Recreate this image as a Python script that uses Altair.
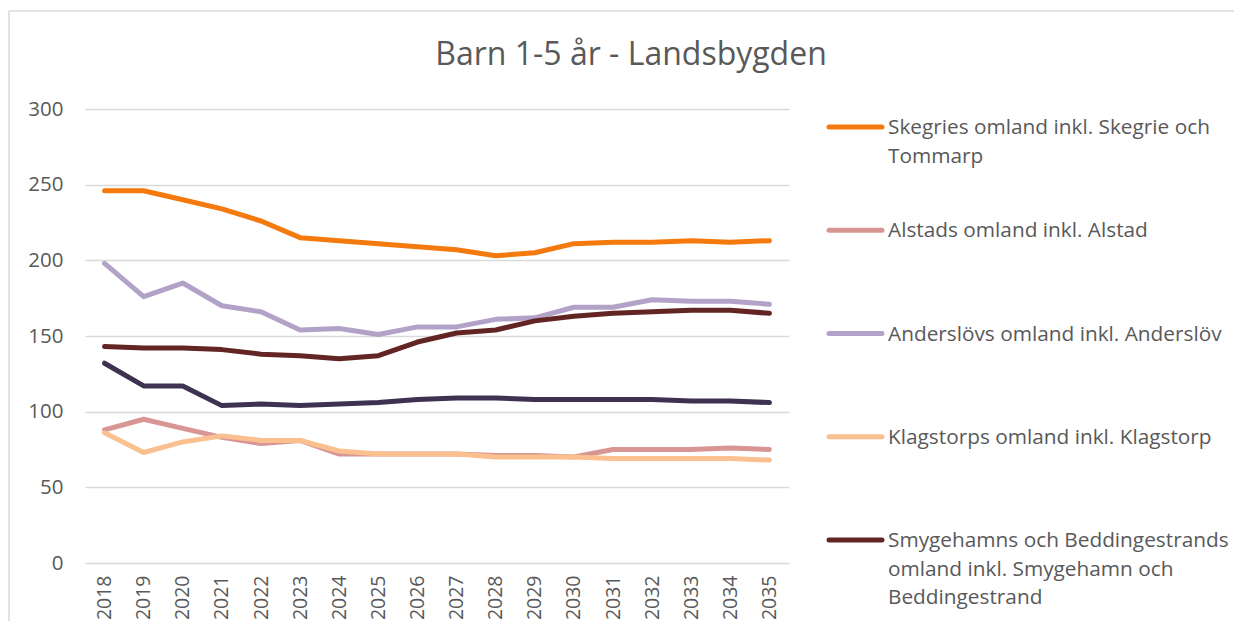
import altair as alt
import pandas as pd

years = list(range(2018, 2036))

series_names = [
    "Skegries omland inkl. Skegrie och Tommarp",
    "Alstads omland inkl. Alstad",
    "Anderslövs omland inkl. Anderslöv",
    "Klagstorps omland inkl. Klagstorp",
    "Smygehamns och Beddingestrands omland inkl. Smygehamn och Beddingestrand",
    "Övrig landsbygd",
]

legend_labels = [
    "Skegries omland inkl. Skegrie och\nTommarp",
    "Alstads omland inkl. Alstad",
    "Anderslövs omland inkl. Anderslöv",
    "Klagstorps omland inkl. Klagstorp",
    "Smygehamns och Beddingestrands\nomland inkl. Smygehamn och\nBeddingestrand",
]

skegrie = [246, 246, 240, 234, 226, 215, 213, 211, 209, 207, 203, 205, 211, 212, 212, 213, 212, 213]
alstad = [88, 95, 89, 83, 79, 81, 72, 72, 72, 72, 71, 71, 70, 75, 75, 75, 76, 75]
anderslov = [198, 176, 185, 170, 166, 154, 155, 151, 156, 156, 161, 162, 169, 169, 174, 173, 173, 171]
klagstorp = [86, 73, 80, 84, 81, 81, 74, 72, 72, 72, 70, 70, 70, 69, 69, 69, 69, 68]
smygehamn = [143, 142, 142, 141, 138, 137, 135, 137, 146, 152, 154, 160, 163, 165, 166, 167, 167, 165]
ovrig = [132, 117, 117, 104, 105, 104, 105, 106, 108, 109, 109, 108, 108, 108, 108, 107, 107, 106]

colors = ["#F47A0E", "#D99594", "#B3A2C7", "#FAC090", "#632523", "#3F3151"]

rows = []
for name, vals in zip(series_names, [skegrie, alstad, anderslov, klagstorp, smygehamn, ovrig]):
    for y, v in zip(years, vals):
        rows.append({"serie": name, "år": str(y), "antal": v})
df = pd.DataFrame(rows)

leg_df = pd.DataFrame({
    "serie": series_names[:5],
    "label": legend_labels,
    "idx": list(range(5)),
})

FONT = "Open Sans"
GREY = "#595959"

color_scale = alt.Scale(domain=series_names, range=colors)

lines = alt.Chart(df).mark_line(strokeWidth=5, strokeCap="round", strokeJoin="round").encode(
    x=alt.X("år:O", scale=alt.Scale(type="point", padding=0.5),
            axis=alt.Axis(title=None, labelAngle=-90, labelFontSize=19.5, labelColor=GREY,
                          labelFont=FONT, ticks=False, domain=False, labelPadding=12,
                          grid=False)),
    y=alt.Y("antal:Q", scale=alt.Scale(domain=[0, 300]),
            axis=alt.Axis(title=None, values=[0, 50, 100, 150, 200, 250, 300], labelFontSize=20.5,
                          labelColor=GREY, labelFont=FONT, ticks=False, domain=False,
                          labelPadding=22, gridColor="#D9D9D9", gridWidth=1.3)),
    color=alt.Color("serie:N", scale=color_scale, legend=None),
    order=alt.Order("år:O"),
    detail="serie:N",
)

leg_y = alt.Y("idx:Q", scale=alt.Scale(domain=[0, 4], range=[18, 431]), axis=None)

leg_rules = alt.Chart(leg_df).mark_rule(strokeWidth=5, strokeCap="round").encode(
    x=alt.value(744), x2=alt.value(797), y=leg_y,
    color=alt.Color("serie:N", scale=color_scale, legend=None),
)
leg_text = alt.Chart(leg_df).mark_text(
    align="left", baseline="top", dy=-9, fontSize=20.8, font=FONT, color=GREY,
    lineBreak="\n", lineHeight=28.5,
).encode(x=alt.value(803), y=leg_y, text="label:N")

title = alt.Chart(pd.DataFrame({"t": ["Barn 1-5 år - Landsbygden"]})).mark_text(
    fontSize=32, font=FONT, color=GREY, align="center", baseline="middle",
).encode(x=alt.value(546), y=alt.value(-54), text="t:N")

border_left = alt.Chart(pd.DataFrame({"a": [0]})).mark_rule(color="#D9D9D9", strokeWidth=1.5).encode(
    x=alt.value(-76), y=alt.value(-98), y2=alt.value(520))
border_top = alt.Chart(pd.DataFrame({"a": [0]})).mark_rule(color="#D9D9D9", strokeWidth=1.5).encode(
    x=alt.value(-76), x2=alt.value(1160), y=alt.value(-98))

chart = alt.layer(border_left, border_top, title, lines, leg_rules, leg_text).resolve_scale(
    y="independent"
).properties(
    width=704, height=454,
    padding={"left": 77, "top": 101, "right": 445, "bottom": 58},
    autosize=alt.AutoSizeParams(type="none"),
    background="white",
).configure_view(strokeWidth=0, stroke="transparent")

chart.save("out.html", embed_options={"renderer": "svg", "actions": False})
